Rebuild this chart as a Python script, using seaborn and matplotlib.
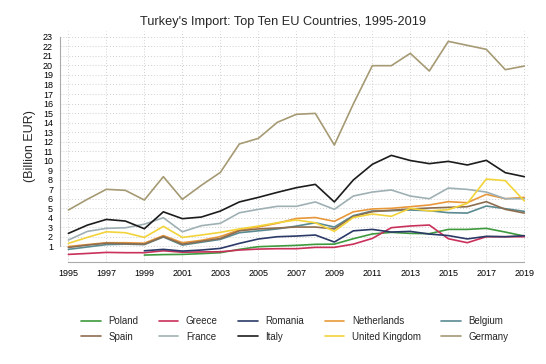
import numpy as np
import pandas as pd
import matplotlib
matplotlib.use("Agg")
import matplotlib.pyplot as plt
import seaborn as sns

# Turkey's imports from the top ten EU countries, billion EUR
years = list(range(1995, 2020))
nan = np.nan

poland = [nan, nan, nan, nan, 0.05, 0.10, 0.12, 0.20, 0.30, 0.65, 0.93, 1.00, 1.07, 1.18, 1.20,
          1.77, 2.27, 2.44, 2.33, 2.30, 2.75, 2.75, 2.86, 2.47, 2.05]
greece = [0.12, 0.22, 0.33, 0.30, 0.30, 0.50, 0.35, 0.38, 0.40, 0.58, 0.68, 0.72, 0.72, 0.86, 0.86,
          1.20, 1.80, 2.93, 3.11, 3.21, 1.77, 1.35, 1.98, 1.98, 1.98]
romania = [nan, nan, nan, nan, 0.50, 0.65, 0.47, 0.58, 0.75, 1.28, 1.74, 1.98, 2.05, 2.16, 1.42,
           2.60, 2.75, 2.47, 2.54, 2.26, 2.10, 1.75, 2.02, 1.98, 2.09]
netherlands = [0.95, 1.15, 1.35, 1.35, 1.30, 2.10, 1.35, 1.60, 2.00, 2.70, 3.00, 3.40, 3.90, 4.00, 3.60,
               4.60, 4.90, 4.97, 5.14, 5.32, 5.67, 5.56, 6.44, 5.98, 6.12]
belgium = [0.65, 0.90, 1.15, 1.20, 1.15, 1.95, 1.10, 1.40, 1.70, 2.40, 2.60, 2.80, 3.10, 3.45, 3.00,
           4.20, 4.69, 4.72, 4.79, 4.72, 4.51, 4.47, 5.21, 4.93, 4.65]
spain = [0.85, 1.10, 1.30, 1.25, 1.20, 2.00, 1.20, 1.50, 1.80, 2.60, 2.80, 2.90, 3.00, 3.00, 2.80,
         4.10, 4.62, 4.76, 4.90, 5.00, 5.07, 5.14, 5.67, 4.86, 4.47]
france = [1.63, 2.54, 2.86, 2.92, 3.30, 3.98, 2.50, 3.14, 3.39, 4.50, 4.86, 5.18, 5.18, 5.64, 4.86,
          6.26, 6.68, 6.90, 6.26, 5.98, 7.10, 6.96, 6.68, 5.98, 5.98]
italy = [2.33, 3.20, 3.80, 3.63, 2.82, 4.60, 3.88, 4.05, 4.68, 5.64, 6.12, 6.65, 7.14, 7.49, 5.64,
         7.95, 9.60, 10.54, 10.00, 9.67, 9.91, 9.53, 10.02, 8.72, 8.30]
uk = [1.28, 1.91, 2.50, 2.40, 1.91, 3.07, 1.91, 2.16, 2.44, 2.80, 3.10, 3.45, 3.74, 3.45, 2.55,
      4.00, 4.37, 4.13, 4.97, 4.69, 4.83, 5.49, 8.05, 7.88, 5.74]
germany = [4.79, 5.92, 6.97, 6.86, 5.84, 8.30, 5.92, 7.39, 8.75, 11.74, 12.33, 14.02, 14.86, 14.96, 11.63,
           15.95, 19.98, 19.98, 21.28, 19.42, 22.54, 22.12, 21.70, 19.56, 19.94]

countries = ["Poland", "Greece", "Romania", "Netherlands", "Belgium",
             "Spain", "France", "Italy", "United Kingdom", "Germany"]
series = [poland, greece, romania, netherlands, belgium, spain, france, italy, uk, germany]

colors = {
    "Poland": "#3d9a3d",
    "Greece": "#c9305a",
    "Romania": "#2b3a67",
    "Netherlands": "#e8983a",
    "Belgium": "#5a8a92",
    "Spain": "#8c6d4f",
    "France": "#9fb0b4",
    "Italy": "#1c1c1c",
    "United Kingdom": "#f2d43a",
    "Germany": "#a69a74",
}

df = pd.concat(
    [pd.DataFrame({"year": years, "value": vals, "country": name})
     for name, vals in zip(countries, series)],
    ignore_index=True,
)

sns.set_style("white")
plt.rcParams["font.family"] = ["Liberation Sans", "DejaVu Sans"]

fig = plt.figure(figsize=(5.46, 3.64), dpi=100)
ax = fig.add_axes([60 / 546, 1 - 262 / 364, 470 / 546, 231 / 364])

sns.lineplot(data=df, x="year", y="value", hue="country", hue_order=countries,
             palette=colors, linewidth=1.2, ax=ax, legend=True)

ax.set_xlim(1994.56, 2019.3)
ax.set_ylim(-0.68, 23.63)
ax.set_xticks(range(1995, 2020, 2))
ax.set_yticks(range(1, 24))
ax.tick_params(axis="both", labelsize=6.5, colors="#aaaaaa", labelcolor="black", length=3, width=0.8, pad=2)
ax.grid(True, linestyle=(0, (1, 2)), color="#cfcfcf", linewidth=0.7)

for side in ["top", "right"]:
    ax.spines[side].set_visible(False)
ax.spines["left"].set_bounds(1, 23)
ax.spines["bottom"].set_bounds(1995, 2019)
for side in ["left", "bottom"]:
    ax.spines[side].set_color("#aaaaaa")
    ax.spines[side].set_linewidth(0.8)

ax.set_xlabel("")
ax.set_ylabel("(Billion EUR)", fontsize=9, labelpad=5)
fig.suptitle("Turkey's Import: Top Ten EU Countries, 1995-2019", fontsize=9.2,
             x=283 / 546, y=1 - 22 / 364, va="center")

# legend: two rows, filled row by row like the original
handles, labels = ax.get_legend_handles_labels()
ax.get_legend().remove()
lookup = dict(zip(labels, handles))
top_row = countries[:5]
bottom_row = countries[5:]
order = [name for pair in zip(top_row, bottom_row) for name in pair]
fig.legend([lookup[n] for n in order], order, ncol=5, loc="center",
           bbox_to_anchor=(0.54, 0.096), frameon=False, fontsize=7,
           handlelength=2.0, handletextpad=0.8, columnspacing=2.1, labelspacing=0.55)

fig.savefig("out.png", dpi=100)
